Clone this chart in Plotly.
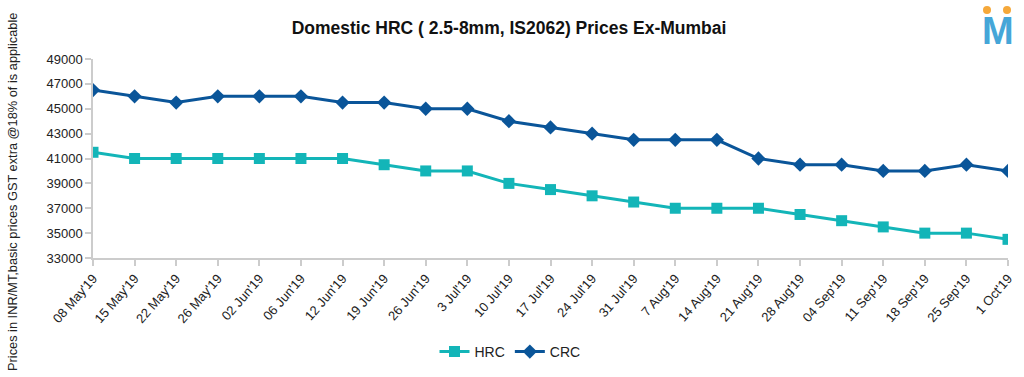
import plotly.graph_objects as go

dates = ["08 May'19", "15 May'19", "22 May'19", "26 May'19", "02 Jun'19", "06 Jun'19",
         "12 Jun'19", "19 Jun'19", "26 Jun'19", "3 Jul'19", "10 Jul'19", "17 Jul'19",
         "24 Jul'19", "31 Jul'19", "7 Aug'19", "14 Aug'19", "21 Aug'19", "28 Aug'19",
         "04 Sep'19", "11 Sep'19", "18 Sep'19", "25 Sep'19", "1 Oct'19"]
hrc = [41500, 41000, 41000, 41000, 41000, 41000, 41000, 40500, 40000, 40000, 39000, 38500,
       38000, 37500, 37000, 37000, 37000, 36500, 36000, 35500, 35000, 35000, 34500]
crc = [46500, 46000, 45500, 46000, 46000, 46000, 45500, 45500, 45000, 45000, 44000, 43500,
       43000, 42500, 42500, 42500, 41000, 40500, 40500, 40000, 40000, 40500, 40000]
y_ticks = list(range(33000, 49001, 2000))
y_ticktext = [str(v) for v in y_ticks]

HRC_COLOR = "#13b5b8"
CRC_COLOR = "#0a5599"

L, R, T, B = 93, 16, 59, 119
W, H = 1024, 377
PW, PH = W - L - R, H - T - B


def px(x):
    return (x - L) / PW


def py(y):
    return (H - B - y) / PH


fig = go.Figure()
fig.add_trace(go.Scatter(x=dates, y=hrc, name="HRC", mode="lines+markers",
                         line=dict(color=HRC_COLOR, width=3),
                         marker=dict(symbol="square", size=11, color=HRC_COLOR)))
fig.add_trace(go.Scatter(x=dates, y=crc, name="CRC", mode="lines+markers",
                         line=dict(color=CRC_COLOR, width=3),
                         marker=dict(symbol="diamond", size=11, color=CRC_COLOR)))

fig.update_layout(
    width=W, height=H,
    margin=dict(l=L, r=R, t=T, b=B, autoexpand=False),
    paper_bgcolor="white", plot_bgcolor="white",
    font=dict(family="Liberation Sans, Arial, sans-serif", size=12, color="#222"),
    title=dict(text="<b>Domestic HRC ( 2.5-8mm, IS2062) Prices Ex-Mumbai</b>",
               xref="container", yref="container",
               x=509 / W, xanchor="center", y=1 - 28 / H, yanchor="middle",
               font=dict(size=17.5, color="#111")),
    showlegend=True,
    legend=dict(orientation="h", x=px(510), xanchor="center", y=py(352), yanchor="middle",
                font=dict(size=14, color="#222"), itemwidth=30, bgcolor="rgba(0,0,0,0)"),
)
fig.update_xaxes(type="category", range=[0, len(dates) - 1], showgrid=False,
                 showline=True, linecolor="#cccccc", linewidth=1.5, automargin=False,
                 ticks="outside", ticklen=6, tickcolor="#cccccc", tickwidth=1.5,
                 tickangle=-49, tickfont=dict(size=13, color="#222"))
fig.update_yaxes(range=[33000, 49000], tickvals=y_ticks, ticktext=y_ticktext, showgrid=False,
                 showline=True, linecolor="#cccccc", linewidth=1.5, automargin=False,
                 ticks="outside", ticklen=6, tickcolor="#cccccc", tickwidth=1.5,
                 tickfont=dict(size=13, color="#222"), zeroline=False)

# y axis title
fig.add_annotation(text="Prices in INR/MT,basic prices GST extra @18% of is applicable",
                   xref="paper", yref="paper", x=px(12), y=py(192), textangle=-90,
                   showarrow=False, xanchor="center", yanchor="middle",
                   font=dict(size=12.8, color="#222"))

# logo
fig.add_annotation(text="<b>M</b>", xref="paper", yref="paper", x=px(998),
                   y=py(31), showarrow=False, xanchor="center", yanchor="middle",
                   font=dict(size=38, color="#45a6d8", family="Liberation Sans, Arial"))
for cx in (987, 1007):
    fig.add_shape(type="circle", xref="paper", yref="paper",
                  x0=px(cx - 4), x1=px(cx + 4),
                  y0=py(14), y1=py(6),
                  fillcolor="#f5a83a", line=dict(width=0))

fig.write_html("out.html", config={"displayModeBar": False},
               post_script="document.body.style.margin='0';document.body.style.overflow='hidden';")
